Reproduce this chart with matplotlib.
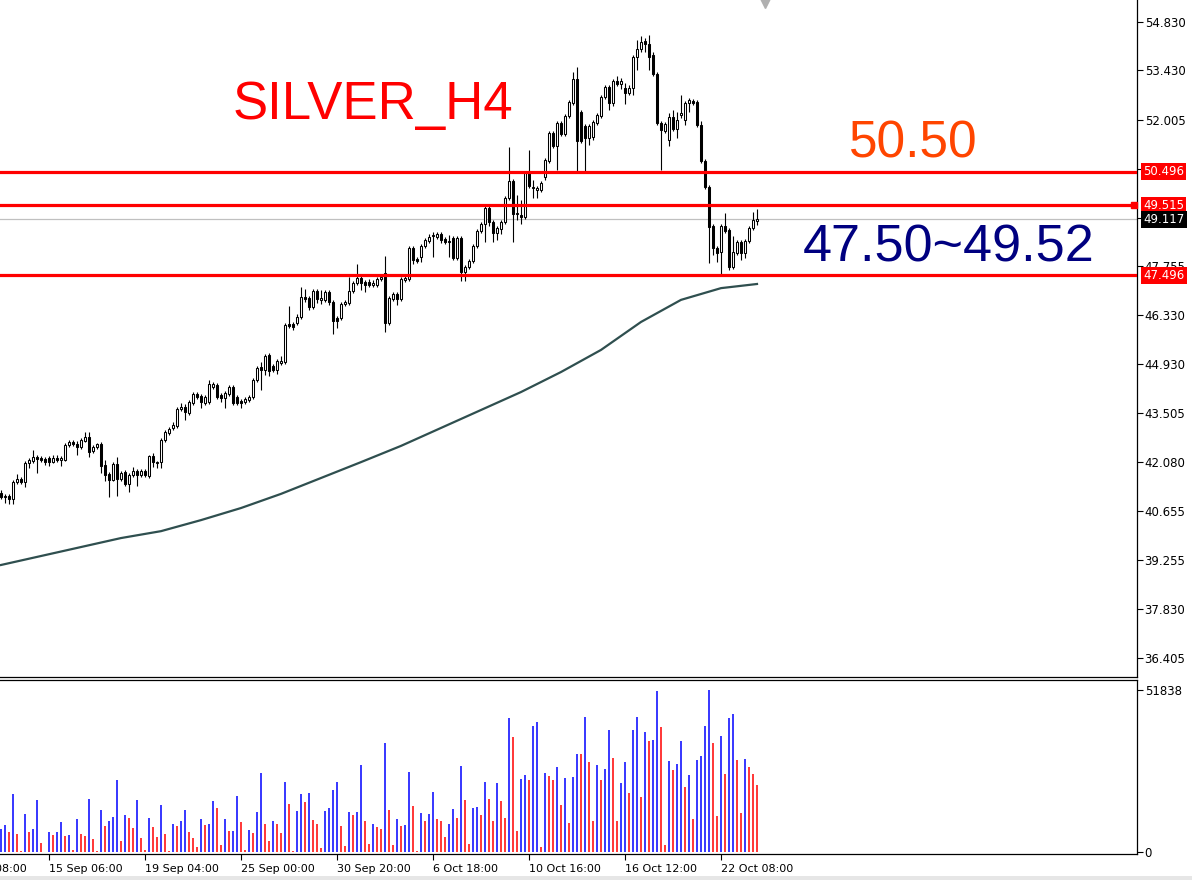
import matplotlib
matplotlib.use("Agg")
import matplotlib.pyplot as plt
from matplotlib.patches import Rectangle
import numpy as np

# SILVER H4 bars (oldest -> newest)
opens = [41.19, 41.07, 41.10, 41.01, 41.50, 41.59, 41.50, 42.05, 42.11, 42.23,
         42.20, 42.17, 42.20, 42.08, 42.20, 42.14, 42.14, 42.58, 42.66, 42.60,
         42.52, 42.69, 42.81, 42.40, 42.52, 42.60, 42.00, 41.74, 41.56, 42.03,
         41.59, 41.79, 41.45, 41.71, 41.82, 41.71, 41.82, 41.68, 42.26, 42.05,
         42.08, 42.72, 42.92, 43.07, 43.13, 43.62, 43.68, 43.50, 43.79, 44.05,
         44.00, 43.79, 43.82, 44.25, 44.31, 44.02, 43.94, 44.05, 44.25, 43.97,
         43.85, 43.82, 43.88, 43.97, 44.46, 44.84, 44.75, 45.18, 44.87, 44.75,
         44.95, 44.98, 46.08, 46.08, 46.11, 46.28, 46.86, 46.83, 46.57, 47.04,
         46.78, 46.78, 47.01, 46.72, 46.26, 46.26, 46.66, 46.69, 47.04, 47.27,
         47.41, 47.30, 47.30, 47.21, 47.21, 47.38, 47.56, 46.11, 46.81, 46.95,
         46.81, 47.36, 47.38, 48.28, 47.96, 48.02, 48.34, 48.49, 48.63, 48.60,
         48.69, 48.54, 48.46, 48.57, 47.99, 48.57, 47.59, 47.73, 47.91, 48.34,
         48.78, 48.98, 49.44, 49.04, 48.72, 48.83, 49.04, 49.73, 50.22, 49.27,
         49.24, 49.18, 50.46, 50.02, 49.96, 49.96, 50.34, 50.80, 51.61, 51.24,
         51.90, 51.59, 52.11, 52.48, 53.18, 52.22, 51.82, 51.47, 51.50, 51.90,
         52.11, 52.66, 52.95, 52.48, 53.12, 53.03, 52.92, 52.77, 52.92, 53.82,
         54.05, 54.28, 54.19, 53.87, 53.32, 51.90, 51.67, 51.41, 52.08, 51.73,
         52.14, 51.99, 52.48, 52.54, 52.51, 51.85, 50.80, 50.05, 48.92, 48.28,
         48.17, 48.92, 48.80, 47.73, 48.14, 48.46, 48.14, 48.49, 48.86, 49.06]
highs = [41.27, 41.16, 41.16, 41.56, 41.74, 41.65, 42.11, 42.20, 42.43, 42.29,
         42.26, 42.23, 42.26, 42.29, 42.29, 42.26, 42.63, 42.72, 42.72, 42.69,
         42.78, 42.95, 42.95, 42.58, 42.63, 42.66, 42.14, 41.79, 42.08, 42.23,
         41.82, 41.85, 41.76, 41.94, 41.88, 41.88, 41.88, 42.29, 42.34, 42.11,
         42.78, 43.01, 43.10, 43.24, 43.68, 43.79, 43.76, 43.88, 44.11, 44.11,
         44.05, 44.02, 44.46, 44.40, 44.37, 44.08, 44.14, 44.31, 44.31, 44.02,
         43.91, 43.97, 44.02, 44.52, 44.87, 44.98, 45.21, 45.24, 44.92, 45.07,
         45.15, 46.11, 46.60, 46.14, 46.37, 47.15, 47.09, 46.89, 47.09, 47.09,
         47.07, 47.07, 47.07, 46.78, 46.31, 46.72, 46.78, 47.44, 47.33, 47.82,
         47.47, 47.36, 47.38, 47.36, 47.44, 47.50, 48.05, 46.89, 47.01, 47.01,
         47.44, 47.47, 48.34, 48.34, 48.02, 48.40, 48.57, 48.69, 48.75, 48.75,
         48.75, 48.60, 48.66, 48.63, 48.63, 48.63, 47.79, 47.96, 48.40, 48.83,
         49.04, 49.50, 49.56, 49.09, 48.92, 49.09, 49.79, 51.21, 50.28, 49.82,
         49.67, 50.51, 51.12, 50.25, 50.08, 50.22, 50.89, 51.67, 51.67, 51.96,
         51.96, 52.16, 52.57, 53.38, 53.53, 52.28, 51.88, 51.88, 51.99, 52.19,
         52.72, 53.00, 53.00, 53.18, 53.27, 53.21, 53.06, 53.00, 53.87, 54.31,
         54.42, 54.37, 54.45, 53.96, 53.38, 51.96, 51.93, 52.19, 52.28, 52.22,
         52.72, 52.54, 52.63, 52.60, 52.57, 51.96, 50.86, 50.11, 48.98, 48.34,
         48.98, 49.30, 48.86, 48.63, 48.51, 48.51, 48.54, 48.92, 49.33, 49.41]
lows = [41.01, 40.90, 40.87, 40.87, 41.45, 41.45, 41.36, 41.91, 42.05, 41.76,
        42.08, 42.00, 41.97, 42.05, 42.08, 41.97, 42.11, 42.52, 42.55, 42.29,
        42.46, 42.66, 42.23, 42.34, 42.46, 41.76, 41.53, 41.07, 41.53, 41.10,
        41.53, 41.39, 41.21, 41.65, 41.39, 41.65, 41.65, 41.62, 41.94, 41.91,
        41.91, 42.66, 42.87, 43.01, 43.07, 43.56, 43.30, 43.44, 43.73, 43.91,
        43.65, 43.73, 43.76, 44.20, 43.91, 43.82, 43.65, 44.00, 43.73, 43.73,
        43.65, 43.76, 43.82, 43.91, 44.40, 44.17, 44.60, 44.57, 44.69, 44.63,
        44.89, 44.92, 45.97, 45.91, 46.05, 46.23, 46.72, 46.49, 46.52, 46.69,
        46.66, 46.72, 46.63, 45.79, 45.97, 46.20, 46.60, 46.63, 46.98, 47.21,
        47.07, 47.01, 47.15, 47.15, 47.15, 47.33, 45.85, 46.05, 46.75, 46.63,
        46.75, 47.30, 47.33, 47.82, 47.85, 47.88, 48.28, 48.43, 48.02, 48.54,
        48.43, 48.40, 48.02, 47.94, 47.94, 47.33, 47.33, 47.67, 47.85, 48.28,
        48.72, 48.46, 48.92, 48.46, 48.51, 48.69, 48.98, 49.67, 48.46, 49.09,
        48.98, 49.12, 50.02, 49.73, 49.73, 49.91, 50.25, 50.75, 51.18, 50.54,
        51.53, 51.53, 52.05, 52.42, 50.46, 51.32, 50.46, 51.26, 51.41, 51.85,
        52.05, 52.60, 52.28, 52.40, 52.98, 52.89, 52.45, 52.72, 52.72, 53.44,
        53.96, 53.96, 53.44, 53.27, 51.85, 50.54, 51.61, 51.24, 51.67, 51.47,
        52.05, 51.85, 52.22, 52.42, 51.79, 50.75, 49.99, 47.85, 48.08, 47.88,
        47.50, 48.72, 47.65, 47.67, 48.08, 47.94, 47.99, 48.43, 48.80, 48.95]
closes = [41.07, 41.10, 41.01, 41.50, 41.59, 41.50, 42.05, 42.14, 42.23, 42.17,
          42.14, 42.08, 42.08, 42.20, 42.14, 42.20, 42.58, 42.66, 42.60, 42.52,
          42.72, 42.81, 42.37, 42.52, 42.60, 41.97, 41.71, 41.56, 42.03, 41.59,
          41.76, 41.45, 41.71, 41.82, 41.71, 41.82, 41.71, 42.26, 42.08, 42.08,
          42.72, 42.95, 43.04, 43.16, 43.62, 43.68, 43.53, 43.82, 44.05, 43.97,
          43.82, 43.97, 44.34, 44.34, 43.97, 43.94, 44.08, 44.25, 43.79, 43.79,
          43.79, 43.91, 43.97, 44.46, 44.81, 44.75, 45.15, 44.72, 44.75, 45.01,
          45.01, 46.05, 46.02, 45.99, 46.28, 46.86, 46.81, 46.57, 47.04, 46.81,
          46.83, 47.01, 46.72, 46.17, 46.17, 46.66, 46.72, 47.04, 47.27, 47.41,
          47.27, 47.21, 47.21, 47.27, 47.38, 47.44, 46.11, 46.83, 46.95, 46.81,
          47.38, 47.41, 48.28, 47.94, 47.91, 48.34, 48.51, 48.60, 48.66, 48.69,
          48.51, 48.46, 48.49, 47.99, 48.57, 47.59, 47.73, 47.91, 48.34, 48.78,
          48.98, 49.44, 49.04, 48.72, 48.86, 49.04, 49.73, 50.22, 49.27, 49.30,
          49.18, 50.46, 50.08, 50.05, 50.02, 50.17, 50.83, 51.61, 51.24, 51.90,
          51.59, 52.11, 52.51, 53.18, 51.38, 51.38, 51.47, 51.82, 51.93, 52.14,
          52.66, 52.95, 52.48, 53.12, 53.03, 53.12, 52.77, 52.92, 53.82, 54.05,
          54.25, 54.19, 53.82, 53.32, 51.90, 51.70, 51.88, 52.08, 51.73, 51.99,
          52.19, 52.48, 52.57, 52.48, 51.85, 50.80, 50.05, 48.89, 48.28, 48.14,
          48.92, 48.78, 47.73, 48.17, 48.46, 48.14, 48.49, 48.86, 49.09, 49.12]
volumes = [7383, 8667, 6420, 18618, 5778, 321, 12198, 6420, 7383, 16692,
           2889, 150, 6420, 5457, 6420, 9630, 5136, 5457, 642, 10593,
           5778, 5136, 17013, 4173, 321, 13482, 8346, 9951, 11235, 23112,
           3531, 11877, 10914, 7704, 16692, 4494, 642, 10914, 8025, 4815,
           15087, 5778, 200, 8988, 8346, 9951, 13482, 6420, 4494, 1605,
           10593, 8667, 8988, 16371, 14124, 2247, 10593, 6741, 6848, 17976,
           9630, 642, 7062, 6099, 12840, 25359, 8988, 3531, 9951, 8988,
           6099, 22470, 15408, 180, 13161, 18618, 16050, 18939, 10272, 8988,
           1284, 13161, 14124, 19902, 22470, 8346, 1926, 12840, 11877, 12840,
           27927, 9951, 2568, 8988, 8025, 7383, 34989, 13482, 2247, 10593,
           8346, 8667, 25680, 14766, 200, 12519, 9951, 12198, 19260, 10593,
           9951, 4815, 8988, 13803, 10914, 27606, 16692, 2568, 14124, 14445,
           11877, 22470, 17013, 9951, 22149, 16371, 10914, 43014, 36915, 6741,
           23433, 24717, 23112, 40446, 41730, 1605, 25359, 24396, 23112, 27285,
           15087, 23754, 9309, 24075, 31458, 31351, 43335, 28890, 9951, 27927,
           23112, 26643, 39162, 30174, 9951, 22149, 28890, 18939, 39162, 43335,
           17655, 38520, 35631, 35952, 51500, 40125, 2247, 29211, 26322, 28248,
           35631, 20865, 24717, 10593, 29532, 30816, 40446, 51838, 34989, 11556,
           37236, 25038, 43014, 44298, 29532, 12519, 29853, 27285, 25038, 21507]

# moving average, read every 10 bars
ma_bars = [0, 10, 20, 30, 40, 50, 60, 70, 80, 90, 100, 110, 120, 130, 140, 150, 160, 170, 180, 189]
ma_vals = [39.10, 39.36, 39.62, 39.88, 40.08, 40.40, 40.75, 41.16, 41.62, 42.08,
           42.55, 43.07, 43.59, 44.11, 44.69, 45.33, 46.14, 46.78, 47.12, 47.24]

price_ticks = [54.830, 53.430, 52.005, 50.580, 49.155, 47.755, 46.330, 44.930,
               43.505, 42.080, 40.655, 39.255, 37.830, 36.405]
time_ticks = [-12, 12, 36, 60, 84, 108, 132, 156, 180]
time_labels = ["10 Sep 08:00", "15 Sep 06:00", "19 Sep 04:00", "25 Sep 00:00",
               "30 Sep 20:00", "6 Oct 18:00", "10 Oct 16:00", "16 Oct 12:00",
               "22 Oct 08:00"]
levels = [50.496, 49.515, 47.496]
last_price = 49.117
vol_max = 51838

W, H = 1192, 880
fig = plt.figure(figsize=(W / 100, H / 100), dpi=100)
fig.patch.set_facecolor("white")

ax = fig.add_axes([0, 1 - 677 / H, 1137 / W, 677 / H])
ax2 = fig.add_axes([0, 1 - 854 / H, 1137 / W, 174 / H])

n = len(closes)
x = np.arange(n)
x0, x1 = -0.25, 284

# candles
for i in range(n):
    o, h, l, c = opens[i], highs[i], lows[i], closes[i]
    ax.vlines(i, l, h, color="black", lw=0.8, zorder=3)
    bull = c >= o
    bottom = min(o, c)
    hgt = max(abs(c - o), 0.012)
    ax.add_patch(Rectangle((i - 0.3, bottom), 0.6, hgt,
                           facecolor="white" if bull else "black",
                           edgecolor="black", lw=0.75, zorder=4))

ax.plot(ma_bars, ma_vals, color="#2F4F4F", lw=1.6, zorder=3)

ax.axhline(last_price, color="#C0C0C0", lw=0.9, zorder=2)
for lv in levels:
    ax.axhline(lv, color="#FF0000", lw=2.3, zorder=5)
ax.plot([283.2], [levels[1]], marker="s", ms=4, color="#FF0000", clip_on=False, zorder=6)

ax.set_xlim(x0, x1)
ax.set_ylim(35.855, 55.467)
ax.yaxis.tick_right()
ax.set_yticks(price_ticks)
ax.set_yticklabels(["%.3f" % p for p in price_ticks])
ax.tick_params(axis="y", direction="out", length=4, width=0.8, labelsize=8.5, pad=1.5,
               colors="black")
ax.set_xticks([])
for s in ["left", "top"]:
    ax.spines[s].set_visible(False)
ax.spines["right"].set_linewidth(0.9)
ax.spines["bottom"].set_linewidth(0.9)

# price tags on the right scale
for lv in levels:
    ax.text(1.0055, lv, "%.3f" % lv, transform=ax.get_yaxis_transform(), ha="left",
            va="center", fontsize=8.5, color="white", zorder=10, clip_on=False,
            bbox=dict(boxstyle="square,pad=0.18", fc="#FF0000", ec="none"))
ax.text(1.0055, last_price, "%.3f" % last_price, transform=ax.get_yaxis_transform(),
        ha="left", va="center", fontsize=8.5, color="white", zorder=10, clip_on=False,
        bbox=dict(boxstyle="square,pad=0.18", fc="black", ec="none"))

# annotations
ax.text(233 / 1137, 1 - 119 / 677, "SILVER_H4", transform=ax.transAxes,
        fontsize=38, color="#FF0000", family="Liberation Sans", va="baseline")
ax.text(849 / 1137, 1 - 157 / 677, "50.50", transform=ax.transAxes,
        fontsize=37, color="#FF4500", family="Liberation Sans", va="baseline")
ax.text(803 / 1137, 1 - 261 / 677, "47.50~49.52", transform=ax.transAxes,
        fontsize=37.5, color="#000080", family="Liberation Sans", va="baseline")

# chart shift marker
ax.plot([191], [55.38], marker="v", ms=7, color="#B0B0B0", clip_on=False, zorder=6)

# volumes
vcol = ["#0000FF"]
for i in range(1, n):
    vcol.append("#0000FF" if volumes[i] > volumes[i - 1] else "#FF0000")
ax2.vlines(x, 0, volumes, colors=vcol, lw=1.1)
ax2.set_ylim(-640, 55038)
ax2.yaxis.tick_right()
ax2.set_yticks([0, vol_max])
ax2.set_yticklabels(["0", str(vol_max)])
ax2.tick_params(axis="y", direction="out", length=4, width=0.8, labelsize=8.5, pad=1.5)

ax2.set_xticks(time_ticks[1:])
ax2.set_xticklabels(time_labels[1:])
for lab in ax2.get_xticklabels():
    lab.set_horizontalalignment("left")
ax2.tick_params(axis="x", direction="out", length=4, width=0.8, labelsize=8, pad=3)
ax2.set_xlim(x0, x1)
# first time label starts left of the visible area
ax2.annotate(time_labels[0], xy=(time_ticks[0], 0), xycoords=("data", "axes fraction"),
             xytext=(0, -7), textcoords="offset points", ha="left", va="top",
             fontsize=8, annotation_clip=False)

ax2.spines["left"].set_visible(False)
ax2.spines["top"].set_linewidth(0.9)
ax2.spines["right"].set_linewidth(0.9)
ax2.spines["bottom"].set_linewidth(0.9)
ax2.spines["bottom"].set_linestyle((0, (2, 1)))

# window border strip at the bottom
fig.patches.append(Rectangle((0, 0), 1, 4 / H, transform=fig.transFigure,
                             facecolor="#E6E6E6", edgecolor="none"))

fig.savefig("out.png", dpi=100)
